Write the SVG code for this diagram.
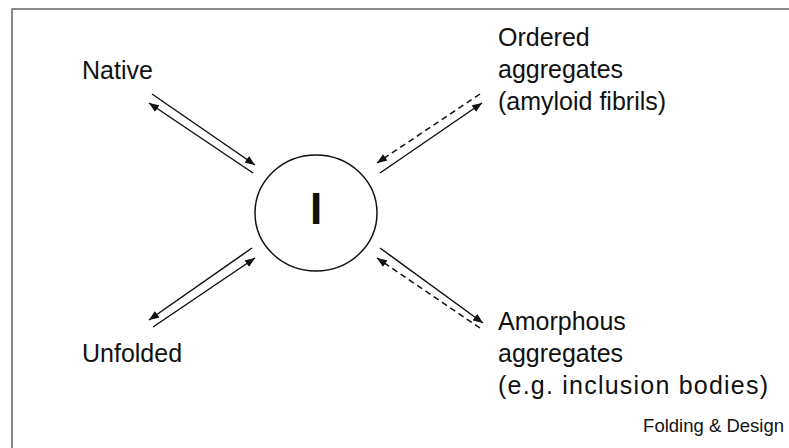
<svg xmlns="http://www.w3.org/2000/svg" width="789" height="448" viewBox="0 0 789 448">
<style>
text{font-family:"Liberation Sans",Arial,sans-serif;fill:#111}
.lbl{font-size:25px}
.ln{stroke:#111;stroke-width:1.5;fill:none}
.dash{stroke-dasharray:6 4}
</style>
<defs>
<marker id="ah" viewBox="0 0 10 8" refX="10" refY="4" markerWidth="10" markerHeight="8" markerUnits="userSpaceOnUse" orient="auto">
<path d="M0,0 L10,4 L0,8 z" fill="#111"/>
</marker>
</defs>
<rect width="789" height="448" fill="#fff"/>
<path d="M12,448 V9 H789" fill="none" stroke="#666" stroke-width="1.5"/>
<g id="node-I">
<ellipse cx="316" cy="213" rx="61" ry="58" fill="#fff" stroke="#111" stroke-width="1.5"/>
<text x="316" y="224" text-anchor="middle" font-size="44" font-weight="bold">I</text>
</g>
<g id="node-native"><text class="lbl" x="82" y="79">Native</text></g>
<g id="node-unfolded"><text class="lbl" x="82" y="362">Unfolded</text></g>
<g id="node-ordered">
<text class="lbl" x="498" y="46">Ordered</text>
<text class="lbl" x="498" y="78">aggregates</text>
<text class="lbl" x="498" y="110">(amyloid fibrils)</text>
</g>
<g id="node-amorphous">
<text class="lbl" x="498" y="330">Amorphous</text>
<text class="lbl" x="498" y="362">aggregates</text>
<text class="lbl" x="498" y="394" textLength="270" lengthAdjust="spacing">(e.g. inclusion bodies)</text>
</g>
<g id="connectors">
<line class="ln" x1="152" y1="94" x2="255" y2="165" marker-end="url(#ah)"/>
<line class="ln" x1="253" y1="173" x2="149" y2="103" marker-end="url(#ah)"/>
<line class="ln dash" x1="480" y1="94" x2="377" y2="163" marker-end="url(#ah)"/>
<line class="ln" x1="380" y1="173" x2="482" y2="103" marker-end="url(#ah)"/>
<line class="ln" x1="252" y1="248" x2="149" y2="320" marker-end="url(#ah)"/>
<line class="ln" x1="153" y1="327" x2="255" y2="258" marker-end="url(#ah)"/>
<line class="ln" x1="380" y1="248" x2="483" y2="323" marker-end="url(#ah)"/>
<line class="ln dash" x1="480" y1="328" x2="377" y2="258" marker-end="url(#ah)"/>
</g>
<text x="784" y="432" text-anchor="end" font-size="18.5">Folding &amp; Design</text>
</svg>
